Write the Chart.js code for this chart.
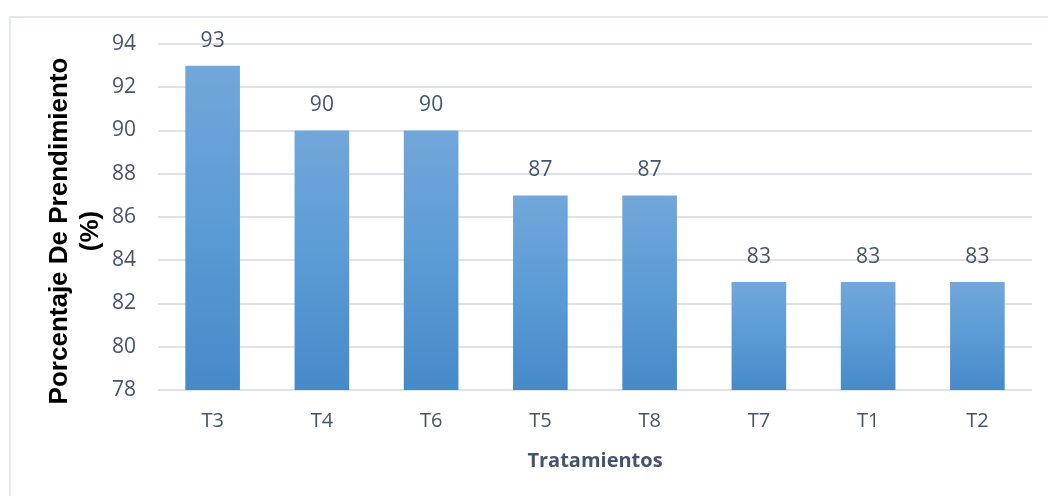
<!DOCTYPE html>
<html>
<head>
<meta charset="utf-8">
<script src="https://cdn.jsdelivr.net/npm/chart.js@4.4.1/dist/chart.umd.min.js"></script>
<style>
  html, body { margin: 0; padding: 0; background: #fff; }
  #wrap { position: relative; width: 1048px; height: 496px; }
  #frame {
    position: absolute; left: 9px; top: 16px; right: 0; bottom: 0;
    border-left: 2px solid #e4e7eb; border-top: 2px solid #e4e7eb;
  }
  #chart { position: absolute; left: 0; top: 0; }
</style>
</head>
<body>
<div id="wrap">
  <div id="frame"></div>
  <canvas id="chart" width="1048" height="496"></canvas>
</div>
<script>
const categories = ['T3', 'T4', 'T6', 'T5', 'T8', 'T7', 'T1', 'T2'];
const prendimiento = [93, 90, 90, 87, 87, 83, 83, 83];
const yTitleLines = ['Porcentaje De Prendimiento', '(%)'];
const xTitle = 'Tratamientos';

const slate = '#44546a';

// each bar gets its own top-to-bottom gradient, like the Excel fill
const barGradient = (context) => {
  const chart = context.chart;
  const area = chart.chartArea;
  const y = chart.scales.y;
  if (!area || !y) return '#5b9bd5';
  const top = y.getPixelForValue(context.raw);
  const grad = chart.ctx.createLinearGradient(0, top, 0, area.bottom);
  grad.addColorStop(0, '#72a7da');
  grad.addColorStop(0.5, '#5b9bd5');
  grad.addColorStop(1, '#468ac8');
  return grad;
};

const valueLabels = {
  id: 'valueLabels',
  afterDatasetsDraw(chart) {
    const ctx = chart.ctx;
    const meta = chart.getDatasetMeta(0);
    ctx.save();
    ctx.font = '21px "Open Sans"';
    ctx.fillStyle = slate;
    ctx.textAlign = 'center';
    ctx.textBaseline = 'middle';
    meta.data.forEach((bar, i) => {
      ctx.fillText(String(prendimiento[i]), bar.x, bar.y - 25);
    });
    ctx.restore();
  },
};

const yTitle = {
  id: 'yTitle',
  afterDraw(chart) {
    const ctx = chart.ctx;
    ctx.save();
    ctx.font = 'bold 26px "Liberation Sans"';
    ctx.fillStyle = '#000';
    ctx.textAlign = 'center';
    ctx.textBaseline = 'alphabetic';
    ctx.translate(0, 231);
    ctx.rotate(-Math.PI / 2);
    ctx.fillText(yTitleLines[0], 0, 67);
    ctx.fillText(yTitleLines[1], 0, 98);
    ctx.restore();
  },
};

new Chart(document.getElementById('chart'), {
  type: 'bar',
  data: {
    labels: categories,
    datasets: [
      {
        data: prendimiento,
        backgroundColor: barGradient,
        borderWidth: 0,
        barPercentage: 0.5,
        categoryPercentage: 1,
      },
    ],
  },
  options: {
    responsive: false,
    animation: false,
    layout: {
      padding: { top: 44, right: 16, left: 0, bottom: 0 },
    },
    plugins: {
      legend: { display: false },
      tooltip: { enabled: false },
    },
    scales: {
      x: {
        grid: { display: false, drawTicks: false },
        border: { display: false },
        ticks: {
          color: slate,
          font: { family: 'Open Sans', size: 20 },
          padding: 19,
        },
        title: {
          display: true,
          text: xTitle,
          color: slate,
          font: { family: 'Open Sans', size: 20, weight: 'bold' },
          padding: { top: 4, bottom: 23 },
        },
        afterFit: (scale) => {
          scale.height = 106;
        },
      },
      y: {
        min: 78,
        max: 94,
        grid: { color: '#dfe3e8', lineWidth: 2, drawTicks: false },
        border: { display: false },
        ticks: {
          stepSize: 2,
          color: slate,
          font: { family: 'Open Sans', size: 21 },
          padding: 22,
        },
        afterFit: (scale) => {
          scale.width = 158;
        },
      },
    },
  },
  plugins: [valueLabels, yTitle],
});
</script>
</body>
</html>
